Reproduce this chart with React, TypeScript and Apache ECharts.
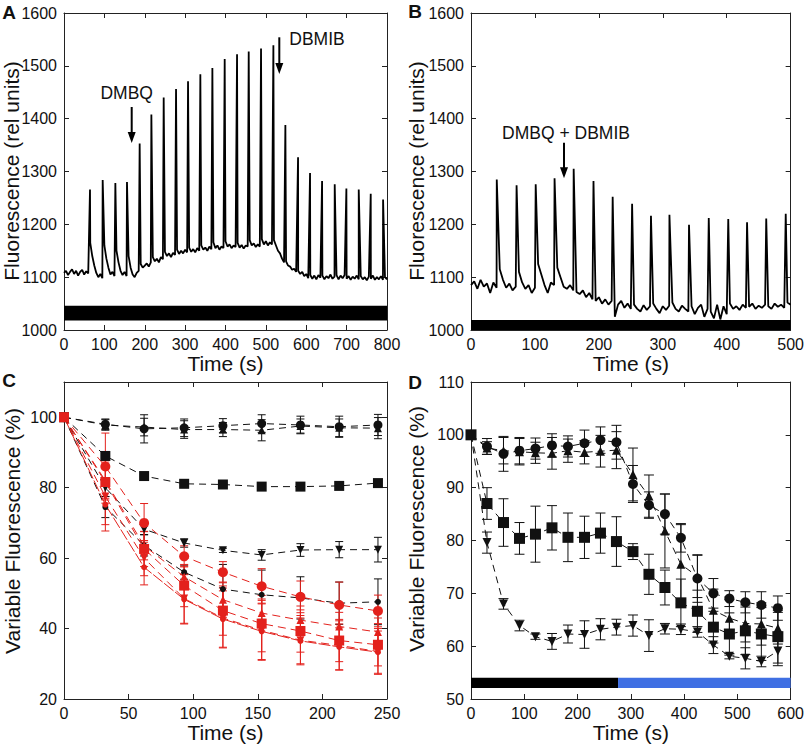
import React, { useEffect, useRef } from 'react';
import * as echarts from 'echarts';

const FONT = '"Liberation Sans", Arial, Helvetica, sans-serif';
const RED = '#e3211c';
const INK = '#111111';
const BLUE = '#3f6fe3';

// ---------- Panel A (fluorescence trace, 0-800 s) ----------
const aBaseStep = 5;
const aBaseline = [
  1108, 1112, 1104, 1110, 1115, 1106, 1112, 1103, 1110, 1114, 1105, 1111, 1107,
  1165, 1140, 1122, 1108, 1100, 1106, 1098,
  1160, 1135, 1118, 1105, 1110, 1102,
  1150, 1128, 1112, 1104, 1110, 1102,
  1140, 1118, 1105, 1100, 1108, 1112,
  1125, 1118, 1122, 1126, 1120, 1128,
  1138, 1130, 1135, 1128, 1138, 1134,
  1148, 1140, 1145, 1138, 1146, 1142,
  1152, 1144, 1150, 1145, 1152, 1147,
  1156, 1148, 1153, 1147, 1155, 1150,
  1160, 1152, 1156, 1150, 1158, 1153,
  1166, 1155, 1160, 1152, 1158, 1155,
  1168, 1158, 1162, 1155, 1160, 1157,
  1165, 1156, 1161, 1154, 1160, 1158,
  1170, 1160, 1164, 1157, 1162, 1158,
  1172, 1162, 1168, 1160, 1166, 1162,
  1170, 1160, 1150, 1145, 1135, 1128,
  1130, 1122, 1120, 1114, 1116, 1110,
  1112, 1106, 1110, 1102, 1106, 1098,
  1104, 1097, 1103, 1096, 1104, 1099,
  1103, 1096, 1102, 1098, 1105, 1097,
  1101, 1104, 1096, 1103, 1098, 1104,
  1097, 1102, 1095, 1101, 1097, 1103,
  1096, 1102, 1096, 1100, 1094, 1101,
  1097, 1103, 1095, 1100, 1096, 1102,
  1095, 1100, 1096,
];
const aSpikeTimes = [64.4, 95.8, 127.2, 156, 187.4, 216.4, 246.9, 277.5, 307.2, 337.7, 367.5, 398, 428.6, 457.5, 488, 518.6, 548.3, 579.7, 609.4, 639.2, 670.5, 699.4, 730, 759.7, 790.3];
const aSpikePeaks = [1266, 1284, 1278, 1280, 1353, 1408, 1440, 1456, 1471, 1484, 1496, 1513, 1522, 1527, 1533, 1539, 1388, 1327, 1297, 1282, 1276, 1268, 1266, 1258, 1247];

// ---------- Panel B (fluorescence trace, 0-500 s) ----------
const bBaseStep = 5;
const bBaseline = [
  1085, 1092, 1078, 1095, 1082, 1088, 1070, 1090, 1080,
  1115, 1095, 1080, 1088, 1075, 1082,
  1110, 1090, 1078, 1085, 1070, 1080,
  1125, 1105, 1085, 1070, 1090, 1085,
  1118, 1100, 1082, 1078, 1085, 1075,
  1072, 1068, 1075, 1062, 1070, 1058,
  1055, 1062, 1050, 1058, 1048, 1055,
  1025, 1048, 1055, 1042, 1050, 1040,
  1048, 1040, 1035, 1047, 1038, 1045,
  1050, 1040, 1032, 1045, 1038, 1046,
  1052, 1040, 1035, 1046, 1040, 1035,
  1045, 1030, 1042, 1048, 1025, 1040,
  1035, 1022, 1048, 1020, 1045, 1030,
  1050, 1040, 1045, 1038, 1048, 1042,
  1044, 1050, 1040, 1046, 1042, 1048,
  1045, 1040, 1050, 1044, 1048, 1042,
  1052, 1048,
];
const bSpikeTimes = [40.3, 71.3, 101.2, 130.7, 160.6, 191.6, 221.6, 252, 281.5, 310.4, 341, 371.9, 402.4, 431.8, 461.8, 492.3];
const bSpikePeaks = [1285, 1274, 1276, 1287, 1305, 1282, 1252, 1239, 1216, 1218, 1199, 1212, 1210, 1204, 1211, 1220];

// ---------- Panel C (variable fluorescence, %) ----------
const cTimes = [0, 32, 62, 93, 123, 153, 183, 213, 243];
const cBlackCircle = [100, 98, 96.7, 97, 97.6, 98.2, 97.8, 97.3, 97.8];
const cBlackCircleErr = [0, 1.5, 4, 2.5, 2, 2.5, 2.5, 3, 3];
const cBlackTri = [100, 97.8, 97.2, 96.5, 96.5, 96.3, 97.5, 97, 96.9];
const cBlackTriErr = [0, 1.5, 2.5, 2.5, 2, 3, 2, 2.5, 3];
const cBlackSquare = [100, 89, 83.3, 81.1, 80.9, 80.3, 80.3, 80.5, 81.3];
const cBlackSquareErr = [0, 0.8, 0.8, 0.6, 0.6, 0.5, 0.5, 0.6, 0.6];
const cBlackDown = [100, 80, 68.2, 64.3, 62.2, 60.9, 62.3, 62.4, 62.4];
const cBlackDownErr = [0, 2.5, 1.5, 1.2, 0.6, 1.5, 1.8, 2.3, 3.5];
const cBlackSmall = [100, 74.5, 63.6, 56, 51.2, 49.6, 48.7, 47.2, 47.6];
const cBlackSmallErr = [0, 3, 3, 2, 7, 7, 6, 6, 6.5];
const cRedCircle = [100, 86, 70, 60.5, 56, 52, 49, 46.7, 45];
const cRedCircleErr = [0, 9.5, 5.5, 3, 3, 5, 4.5, 6.5, 4.5];
const cRedTri = [100, 82, 63.5, 54.7, 48.2, 44.4, 42.4, 40.6, 39];
const cRedTriErr = [0, 5, 4, 3, 5, 4, 4, 4, 4];
const cRedSquare = [100, 81.6, 62.6, 52.2, 45.1, 41.4, 39.3, 36.6, 35.4];
const cRedSquareErr = [0, 6, 5, 6, 7, 8, 6, 6, 6];
const cRedDown = [100, 77.5, 60, 48.5, 43, 39.5, 36.7, 35.2, 33.5];
const cRedDownErr = [0, 8, 5, 7, 8.5, 8.5, 7, 7, 6.5];
const cRedSmall = [100, 75.2, 57.4, 48.3, 42.7, 39.2, 36.5, 34.8, 33.3];
const cRedSmallErr = [0, 7.5, 5, 7, 8, 8, 6.5, 6.5, 6];

// ---------- Panel D (variable fluorescence, %) ----------
const dTimes = [0, 30, 61, 91, 121, 152, 182, 213, 243, 273, 304, 334, 364, 394, 425, 455, 485, 515, 545, 576];
const dCircle = [100, 97.8, 96.4, 97, 97.4, 98, 97.8, 98.4, 99, 98.6, 90.7, 86.7, 85, 80.5, 72.8, 70, 69, 68.3, 67.8, 67.2];
const dCircleErr = [0, 1.5, 3.3, 2.5, 2, 2.2, 2, 2.5, 2.5, 3.2, 3.5, 2.5, 3.8, 2.7, 4.5, 2.8, 1.5, 2, 2.5, 2.3];
const dTri = [100, 97.5, 97, 96.8, 96.6, 96.5, 97, 96.7, 96.9, 97.1, 92.5, 88.4, 81.8, 75.5, 73.2, 66.8, 65.3, 64.3, 64.2, 63.4];
const dTriErr = [0, 1.2, 2.5, 2.5, 2, 3, 2.2, 2.2, 3, 3.5, 5, 4, 7, 7.5, 4, 4, 3.5, 3.5, 4, 3];
const dSquare = [100, 87, 83.4, 80.4, 81.2, 82.4, 80.6, 80.6, 81.4, 79.8, 77.9, 73.6, 71.1, 68.2, 66.6, 63.6, 62.3, 62.9, 62.3, 61.8];
const dSquareErr = [0, 3, 4.5, 3, 5.3, 4.2, 4.6, 4, 3.8, 4.7, 1.5, 3.8, 3.3, 4.5, 4, 3, 4, 4.5, 5, 5];
const dDown = [100, 79.6, 68, 63.9, 61.8, 60.9, 62.3, 62.2, 63.2, 63.6, 63.9, 62, 63.3, 63.2, 62.7, 60.2, 58.1, 57.7, 57.1, 59.1];
const dDownErr = [0, 2, 1, 1, 0.5, 1.5, 1.7, 2.6, 2, 1.5, 2, 3, 1, 1, 1, 1.6, 0.5, 2, 1, 2.8];

// bars (time ranges) under traces
const aBar = [0, 800, 1018, 1046];
const bBar = [0, 500, 1000, 1019];
const dDarkBar = [0, 276, 52.1, 54];
const dLightBar = [276, 600, 52.1, 54];

function buildTrace(baseline: number[], step: number, spikeT: number[], spikeP: number[]) {
  const pts: number[][] = baseline.map((v, i) => [i * step, v]);
  spikeT.forEach((t, i) => pts.push([t, spikeP[i]]));
  pts.sort((a, b) => a[0] - b[0]);
  return pts;
}

const grids = [
  { left: 64, top: 13, width: 323, height: 317 },
  { left: 471, top: 13, width: 322, height: 317 },
  { left: 64, top: 382, width: 323, height: 317 },
  { left: 471, top: 382, width: 322, height: 317 },
];

const axisLine = { show: true, onZero: false, lineStyle: { color: '#222', width: 1 } };
const axisTick = { show: true, inside: true, length: 5, lineStyle: { color: '#222', width: 1 } };

function makeAxes(gi: number, xr: number[], yr: number[], yFmt?: (v: number) => string) {
  const plain = (v: number) => String(v);
  const xs = [
    {
      type: 'value', gridIndex: gi, position: 'bottom', min: xr[0], max: xr[1], interval: xr[2],
      axisLine, axisTick, splitLine: { show: false },
      axisLabel: { fontSize: 16, color: '#111', fontFamily: FONT, margin: 6, formatter: plain },
      name: 'Time (s)', nameLocation: 'middle', nameGap: 20,
      nameTextStyle: { fontSize: 21, color: '#111', fontFamily: FONT },
    },
    {
      type: 'value', gridIndex: gi, position: 'top', min: xr[0], max: xr[1], interval: xr[2],
      axisLine, axisTick, splitLine: { show: false }, axisLabel: { show: false },
    },
  ];
  const ys = [
    {
      type: 'value', gridIndex: gi, position: 'left', min: yr[0], max: yr[1], interval: yr[2],
      axisLine, axisTick, splitLine: { show: false },
      axisLabel: { fontSize: 16, color: '#111', fontFamily: FONT, margin: 7, formatter: yFmt || plain },
    },
    {
      type: 'value', gridIndex: gi, position: 'right', min: yr[0], max: yr[1], interval: yr[2],
      axisLine, axisTick, splitLine: { show: false }, axisLabel: { show: false },
    },
  ];
  return { xs, ys };
}

function errSeries(gi: number, times: number[], vals: number[], errs: number[], color: string, halfW: number) {
  const data = times
    .map((t, i) => [t, vals[i] - errs[i], vals[i] + errs[i]])
    .filter((_, i) => errs[i] > 0);
  return {
    type: 'custom', xAxisIndex: gi * 2, yAxisIndex: gi * 2, z: 2, silent: true,
    data, encode: { x: 0, y: [1, 2] },
    renderItem: (_params: any, api: any) => {
      const x = api.value(0), lo = api.value(1), hi = api.value(2);
      const a = api.coord([x, lo]);
      const b = api.coord([x, hi]);
      const st = { stroke: color, lineWidth: 1 };
      return {
        type: 'group',
        children: [
          { type: 'line', shape: { x1: a[0], y1: a[1], x2: b[0], y2: b[1] }, style: st },
          { type: 'line', shape: { x1: a[0] - halfW, y1: a[1], x2: a[0] + halfW, y2: a[1] }, style: st },
          { type: 'line', shape: { x1: b[0] - halfW, y1: b[1], x2: b[0] + halfW, y2: b[1] }, style: st },
        ],
      };
    },
  };
}

function markerSeries(gi: number, times: number[], vals: number[], color: string, symbol: string, size: number, rotate: number, dash: any) {
  return {
    type: 'line', xAxisIndex: gi * 2, yAxisIndex: gi * 2, z: 4, silent: true,
    data: times.map((t, i) => [t, vals[i]]),
    symbol, symbolSize: size, symbolRotate: rotate, showSymbol: true, showAllSymbol: true,
    itemStyle: { color, borderWidth: 0 },
    lineStyle: { color, width: 1, type: dash },
  };
}

function barArea(r: number[], color: string) {
  return [{ coord: [r[0], r[2]], itemStyle: { color, opacity: 1 } }, { coord: [r[1], r[3]] }];
}

export default function App() {
  const ref = useRef<HTMLDivElement>(null);
  useEffect(() => {
    if (!ref.current) return;
    const chart = echarts.init(ref.current, undefined, { renderer: 'svg' });
    const A = makeAxes(0, [0, 800, 100], [1000, 1600, 100]);
    const B = makeAxes(1, [0, 500, 100], [1000, 1600, 100]);
    const C = makeAxes(2, [0, 250, 50], [20, 110, 20], (v: number) => (v > 105 ? '' : String(v)));
    const D = makeAxes(3, [0, 600, 100], [50, 110, 10]);

    const dashB = [7, 5];
    const dashR = [8, 5];

    const series: any[] = [
      {
        type: 'line', xAxisIndex: 0, yAxisIndex: 0, z: 3, silent: true, symbol: 'none',
        data: buildTrace(aBaseline, aBaseStep, aSpikeTimes, aSpikePeaks),
        lineStyle: { color: '#000', width: 1.8 },
        markArea: { silent: true, data: [barArea(aBar, '#000')] },
      },
      {
        type: 'line', xAxisIndex: 2, yAxisIndex: 2, z: 3, silent: true, symbol: 'none',
        data: buildTrace(bBaseline, bBaseStep, bSpikeTimes, bSpikePeaks),
        lineStyle: { color: '#000', width: 1.8 },
        markArea: { silent: true, data: [barArea(bBar, '#000')] },
      },
      // Panel C error bars
      errSeries(2, cTimes, cBlackCircle, cBlackCircleErr, INK, 4),
      errSeries(2, cTimes, cBlackTri, cBlackTriErr, INK, 4),
      errSeries(2, cTimes, cBlackSquare, cBlackSquareErr, INK, 4),
      errSeries(2, cTimes, cBlackDown, cBlackDownErr, INK, 4),
      errSeries(2, cTimes, cBlackSmall, cBlackSmallErr, INK, 4),
      errSeries(2, cTimes, cRedCircle, cRedCircleErr, RED, 4),
      errSeries(2, cTimes, cRedTri, cRedTriErr, RED, 4),
      errSeries(2, cTimes, cRedSquare, cRedSquareErr, RED, 4),
      errSeries(2, cTimes, cRedDown, cRedDownErr, RED, 4),
      errSeries(2, cTimes, cRedSmall, cRedSmallErr, RED, 4),
      // Panel C markers + dashed lines
      markerSeries(2, cTimes, cBlackCircle, INK, 'circle', 9, 0, dashB),
      markerSeries(2, cTimes, cBlackTri, INK, 'triangle', 8, 0, dashB),
      markerSeries(2, cTimes, cBlackSquare, INK, 'rect', 10, 0, dashB),
      markerSeries(2, cTimes, cBlackDown, INK, 'triangle', 8, 180, dashB),
      markerSeries(2, cTimes, cBlackSmall, INK, 'circle', 6, 0, dashB),
      markerSeries(2, cTimes, cRedSmall, RED, 'circle', 6, 0, [12, 2]),
      markerSeries(2, cTimes, cRedDown, RED, 'triangle', 8, 180, dashR),
      markerSeries(2, cTimes, cRedTri, RED, 'triangle', 8, 0, dashR),
      markerSeries(2, cTimes, cRedCircle, RED, 'circle', 10, 0, dashR),
      markerSeries(2, cTimes, cRedSquare, RED, 'rect', 10, 0, dashR),
      // Panel D error bars
      errSeries(3, dTimes, dCircle, dCircleErr, INK, 5),
      errSeries(3, dTimes, dTri, dTriErr, INK, 5),
      errSeries(3, dTimes, dSquare, dSquareErr, INK, 5),
      errSeries(3, dTimes, dDown, dDownErr, INK, 5),
      // Panel D markers
      {
        ...markerSeries(3, dTimes, dCircle, INK, 'circle', 10, 0, dashB),
        markArea: { silent: true, data: [barArea(dDarkBar, '#000'), barArea(dLightBar, BLUE)] },
      },
      markerSeries(3, dTimes, dTri, INK, 'triangle', 9, 0, dashB),
      markerSeries(3, dTimes, dSquare, INK, 'rect', 11, 0, dashB),
      markerSeries(3, dTimes, dDown, INK, 'triangle', 9, 180, dashB),
    ];

    const txt = (text: string, x: number, y: number, size: number, extra: any = {}) => ({
      type: 'text', x, y, silent: true,
      style: { text, fill: '#111', font: `${size}px ${FONT}`, textAlign: 'center', textVerticalAlign: 'middle', ...extra },
    });
    const vtxt = (text: string, x: number, y: number) => ({
      type: 'text', x, y, rotation: Math.PI / 2, silent: true,
      style: { text, fill: '#111', font: `21px ${FONT}`, textAlign: 'center', textVerticalAlign: 'middle' },
    });
    const arrow = (x: number, y1: number, y2: number) => [
      { type: 'line', silent: true, shape: { x1: x, y1, x2: x, y2: y2 - 9 }, style: { stroke: '#000', lineWidth: 2 } },
      { type: 'polygon', silent: true, shape: { points: [[x - 4, y2 - 11], [x + 4, y2 - 11], [x, y2]] }, style: { fill: '#000' } },
    ];

    const graphic: any[] = [
      txt('A', 9, 12.5, 19, { font: `bold 19px ${FONT}` }),
      txt('B', 415, 11, 19, { font: `bold 19px ${FONT}` }),
      txt('C', 9, 380, 19, { font: `bold 19px ${FONT}` }),
      txt('D', 415, 382.5, 19, { font: `bold 19px ${FONT}` }),
      vtxt('Fluorescence (rel units)', 11, 171),
      vtxt('Fluorescence (rel units)', 416, 171),
      vtxt('Variable Fluorescence (%)', 12, 531),
      vtxt('Variable Fluorescence (%)', 416, 529),
      txt('DMBQ', 126.7, 92.7, 17.5),
      txt('DBMIB', 289.3, 39.3, 17.5, { textAlign: 'left' }),
      txt('DMBQ + DBMIB', 566, 132.7, 17.5),
      ...arrow(131.7, 107, 143),
      ...arrow(279.3, 37.3, 74),
      ...arrow(564, 142.7, 178.3),
    ];

    chart.setOption({
      animation: false,
      grid: grids,
      xAxis: [...A.xs, ...B.xs, ...C.xs, ...D.xs],
      yAxis: [...A.ys, ...B.ys, ...C.ys, ...D.ys],
      series,
      graphic,
    });
    return () => chart.dispose();
  }, []);
  return <div ref={ref} style={{ position: 'absolute', left: 0, top: 0, width: 807, height: 744, background: '#fff' }} />;
}
